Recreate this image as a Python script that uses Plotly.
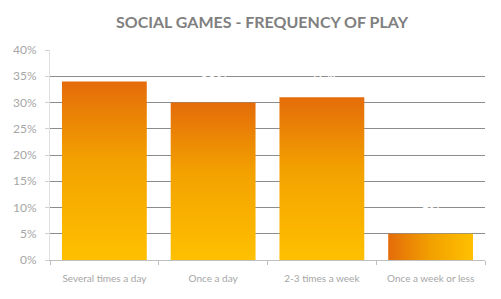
import plotly.graph_objects as go

categories = ["Several times a day", "Once a day", "2-3 times a week", "Once a week or less"]
values = [0.34, 0.30, 0.31, 0.05]
y_ticks = [0, 0.05, 0.10, 0.15, 0.20, 0.25, 0.30, 0.35, 0.40]
title = "SOCIAL GAMES - FREQUENCY OF PLAY"

BAR_W = 0.78
ORANGE = "#E46C0A"
YELLOW = "#FFC000"

fig = go.Figure()
for i, v in enumerate(values):
    x0, x1 = i - BAR_W / 2, i + BAR_W / 2
    tall = v > 0.1
    fig.add_trace(go.Scatter(
        x=[x0, x1, x1, x0, x0], y=[0, 0, v, v, 0],
        mode="lines", line=dict(width=0), fill="toself",
        fillgradient=dict(
            type="vertical" if tall else "horizontal",
            colorscale=[[0, YELLOW], [0.55, "#F3A200"], [1, ORANGE]] if tall
            else [[0, ORANGE], [0.5, "#F2A000"], [1, YELLOW]],
        ),
        hoverinfo="skip", showlegend=False,
    ))

for i, v in enumerate(values):
    fig.add_annotation(
        x=i, y=v, text=f"{round(v*100)}%", showarrow=False, yanchor="bottom", yshift=12,
        font=dict(color="white", size=14, family="Lato"),
    )

fig.update_layout(
    width=501, height=299,
    margin=dict(l=50, r=16, t=50, b=39),
    paper_bgcolor="white", plot_bgcolor="white",
    title=dict(text=f"<b>{title}</b>", x=0.523, xanchor="center", y=0.925, yanchor="middle",
               font=dict(family="Lato", size=16, color="#7F7F7F")),
    font=dict(family="Lato", color="#A6A6A6"),
    xaxis=dict(
        range=[-0.5, len(values) - 0.5], tickvals=list(range(len(values))), ticktext=categories,
        ticks="", showgrid=False, zeroline=False, showline=True, linecolor="#BFBFBF", linewidth=1,
        tickfont=dict(size=10, color="#A6A6A6"), ticklabelstandoff=9,
        minor=dict(tickvals=[i - 0.5 for i in range(len(values) + 1)], ticks="outside",
                   ticklen=4, tickcolor="#BFBFBF", showgrid=False),
        fixedrange=True,
    ),
    yaxis=dict(
        range=[0, 0.4], tickvals=y_ticks, tickformat=".0%",
        showgrid=True, gridcolor="#8C8C8C", gridwidth=1, zeroline=False,
        showline=True, linecolor="#E0E0E0", ticks="outside", ticklen=4, tickcolor="#D0D0D0",
        tickfont=dict(size=12, color="#A6A6A6"), ticklabelstandoff=6, fixedrange=True,
    ),
)

fig.write_html("out.html")
